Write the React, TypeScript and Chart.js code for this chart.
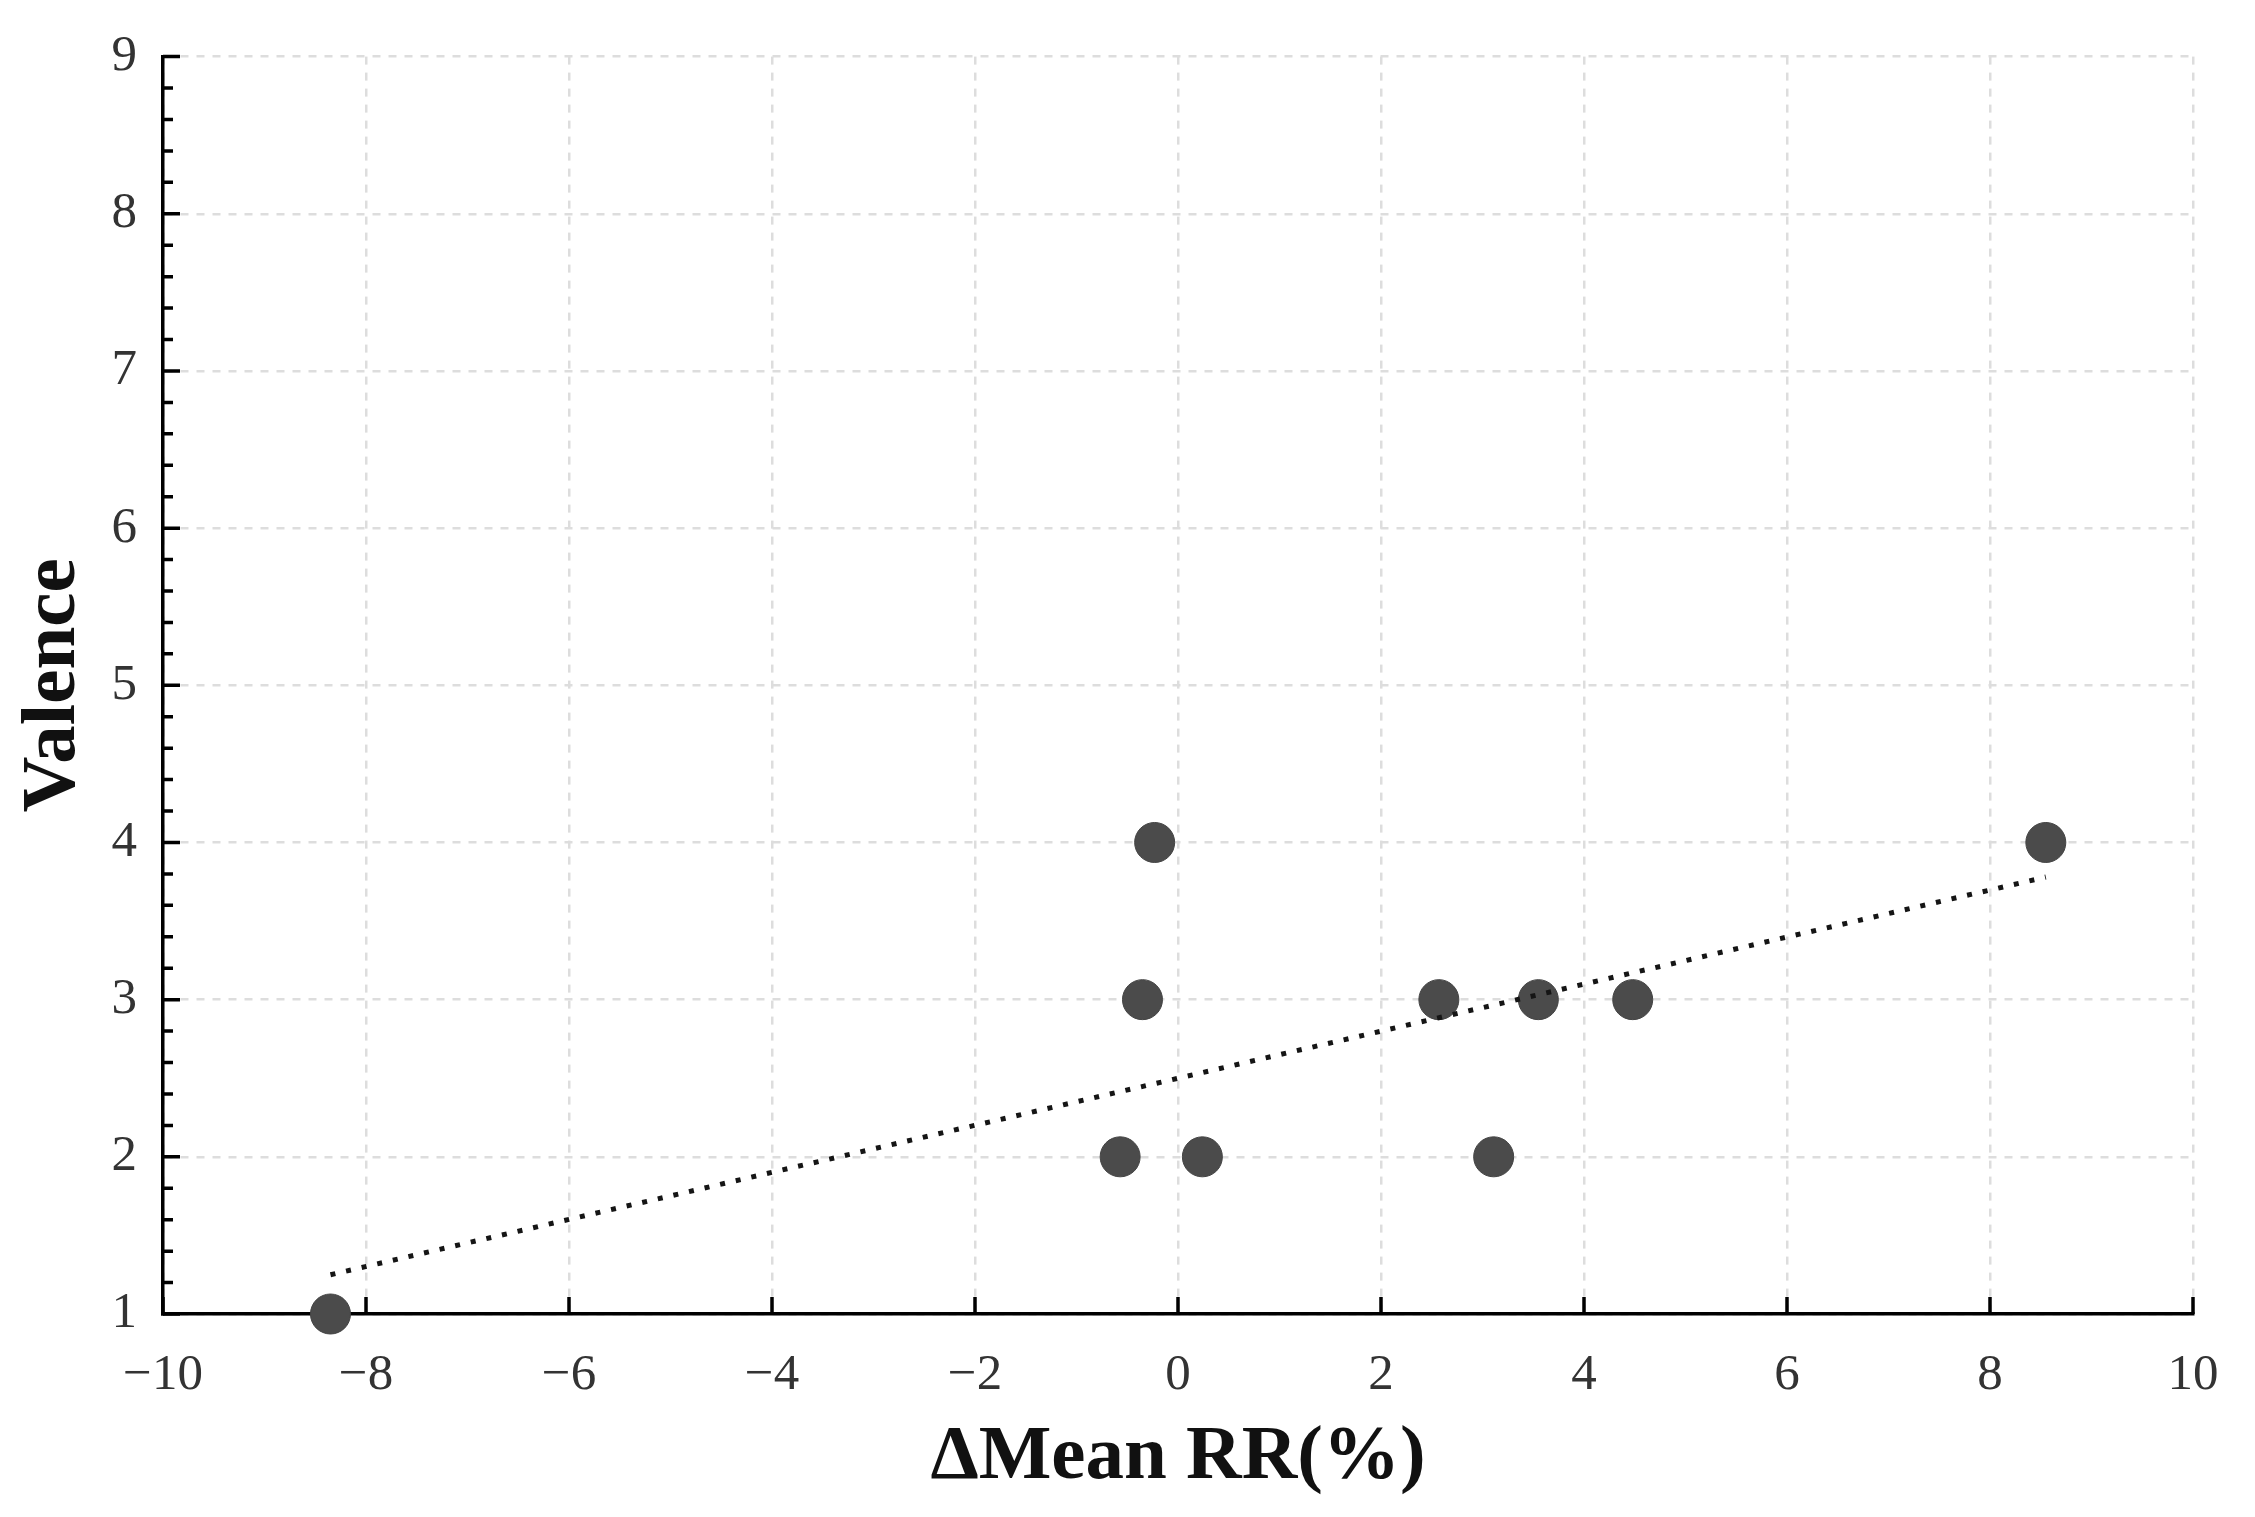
import React, { useEffect, useRef } from 'react';
import { Chart, registerables } from 'chart.js';

Chart.register(...registerables);

// ---- data ----
const deltaMeanRR = [-8.35, -0.57, 0.24, -0.35, -0.23, 2.57, 3.55, 4.48, 3.11, 8.55];
const valence = [1, 2, 2, 3, 4, 3, 3, 3, 2, 4];
const trendX = [-8.35, 8.55];
const trendY = [1.25, 3.78];
const xRange = [-10, 10];
const yRange = [1, 9];
const xStep = 2;
const yStep = 1;
const yMinorPerMajor = 5;
const xTitle = 'ΔMean RR(%)';
const yTitle = 'Valence';

const W = 2255;
const H = 1517;
const AREA_LEFT = 163;
const AREA_TOP = 53;
const AREA_RIGHT = 2193;
const AREA_BOTTOM = 1314;

const fmt = (v: number) => (v < 0 ? '\u2212' + Math.abs(v) : String(v));

const innerTicks = {
  id: 'innerTicks',
  afterDraw(chart: any) {
    const { ctx, chartArea, scales } = chart;
    const x = scales.x;
    const y = scales.y;
    ctx.save();
    ctx.strokeStyle = '#000';
    ctx.lineWidth = 3.5;
    ctx.setLineDash([]);
    ctx.beginPath();
    for (let v = xRange[0]; v <= xRange[1] + 1e-9; v += xStep) {
      const px = x.getPixelForValue(v);
      ctx.moveTo(px, chartArea.bottom);
      ctx.lineTo(px, chartArea.bottom - 17);
    }
    const minor = yStep / yMinorPerMajor;
    const n = Math.round((yRange[1] - yRange[0]) / minor);
    for (let i = 0; i <= n; i++) {
      const v = yRange[0] + i * minor;
      const py = y.getPixelForValue(v);
      const len = i % yMinorPerMajor === 0 ? 17 : 10;
      ctx.moveTo(chartArea.left, py);
      ctx.lineTo(chartArea.left + len, py);
    }
    ctx.stroke();
    ctx.restore();
  },
};

export default function App() {
  const ref = useRef<HTMLCanvasElement | null>(null);

  useEffect(() => {
    document.body.style.margin = '0';
    if (!ref.current) return;
    const tickFont = { family: '"Liberation Serif", "Times New Roman", serif', size: 51 };
    const titleFont = { family: '"Liberation Serif", "Times New Roman", serif', size: 77, weight: 'bold' as const };
    const chart = new Chart(ref.current, {
      type: 'scatter',
      data: {
        datasets: [
          {
            type: 'line' as const,
            label: 'trend',
            data: trendX.map((v, i) => ({ x: v, y: trendY[i] })),
            borderColor: '#151515',
            borderWidth: 5,
            borderDash: [5, 11],
            pointRadius: 0,
            fill: false,
            order: 1,
          },
          {
            label: 'points',
            data: deltaMeanRR.map((v, i) => ({ x: v, y: valence[i] })),
            backgroundColor: '#4b4b4b',
            borderColor: '#444',
            borderWidth: 1,
            pointRadius: 20,
            clip: false as any,
            order: 2,
          },
        ],
      },
      options: {
        animation: false,
        responsive: true,
        maintainAspectRatio: false,
        devicePixelRatio: 1,
        layout: { padding: { top: AREA_TOP, right: W - AREA_RIGHT, left: 0, bottom: 0 } },
        plugins: { legend: { display: false }, tooltip: { enabled: false } },
        scales: {
          x: {
            type: 'linear',
            min: xRange[0],
            max: xRange[1],
            afterFit: (s: any) => {
              s.height = H - AREA_BOTTOM;
            },
            afterBuildTicks: (s: any) => {
              const t = [];
              for (let v = xRange[0]; v <= xRange[1] + 1e-9; v += xStep) t.push({ value: v });
              s.ticks = t;
            },
            ticks: {
              stepSize: xStep,
              padding: 31,
              color: '#333',
              font: tickFont,
              maxRotation: 0,
              callback: (v: any) => fmt(Number(v)),
            },
            grid: { color: '#dddddd', lineWidth: 2.5, drawTicks: false },
            border: { display: true, color: '#000', width: 3.5, dash: [8, 8] },
            title: { display: true, text: xTitle, color: '#111', font: titleFont, padding: { top: 0, bottom: 13 } },
          },
          y: {
            type: 'linear',
            min: yRange[0],
            max: yRange[1],
            afterFit: (s: any) => {
              s.width = AREA_LEFT;
            },
            ticks: {
              stepSize: yStep,
              padding: 26,
              color: '#333',
              font: tickFont,
              callback: (v: any) => fmt(Number(v)),
            },
            grid: { color: '#dddddd', lineWidth: 2.5, drawTicks: false },
            border: { display: true, color: '#000', width: 3.5, dash: [8, 8] },
            title: { display: true, text: yTitle, color: '#111', font: titleFont, padding: { top: 8, bottom: 0 } },
          },
        },
      },
      plugins: [innerTicks],
    } as any);
    return () => chart.destroy();
  }, []);

  return (
    <div style={{ width: W, height: H, position: 'relative', background: '#fff' }}>
      <canvas ref={ref} />
    </div>
  );
}
